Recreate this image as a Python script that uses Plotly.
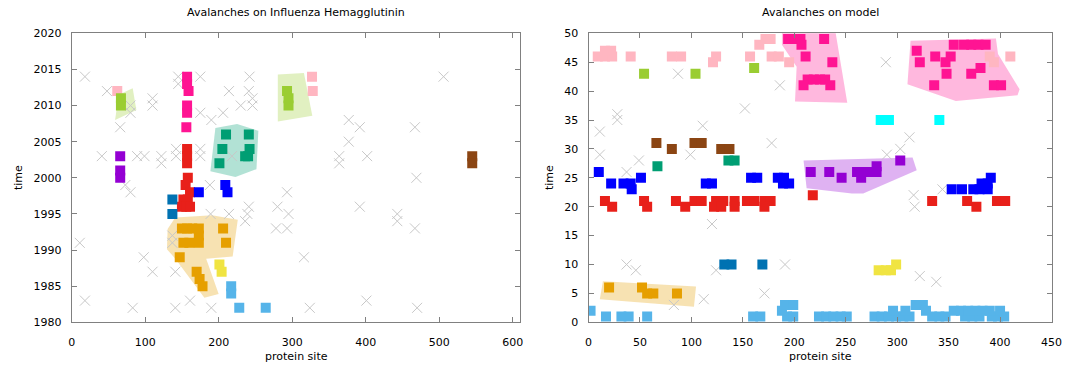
import plotly.graph_objects as go

# ---------------- LEFT PANEL DATA (protein site, year) ----------------
left_gray_x = [18, 48, 66, 80, 80, 110, 110, 145, 145, 175, 214, 242, 241, 246, 246, 230, 206, 190, 175,
               41, 89, 99, 122, 122, 142, 142, 175, 175, 218, 188, 293, 73, 80,
               506, 377, 392, 467, 377, 364, 364, 402, 469, 392, 443, 443, 467, 316, 324, 401, 470,
               214, 236, 239, 241, 189, 280, 295, 278, 293,
               11, 98, 110, 141, 18, 83, 141, 161, 190, 137, 137]
left_gray_y = [2014, 2012, 2007, 2010, 2009, 2011, 2010, 2014, 2013, 2014, 2012, 2014, 2012, 2011, 2010, 2010, 2009, 2008, 2009,
               2003, 2003, 2003, 2003, 2002, 2004, 2003, 2004, 2003, 2003, 1999, 1998, 1999, 1998,
               2014, 2008, 2007, 2007, 2005, 2003, 2002, 2003, 2000, 1996, 1995, 1994, 1993, 1989, 1982, 1983, 1982,
               1995, 1994, 1995, 1996, 1995, 1996, 1995, 1993, 1993,
               1991, 1989, 1987, 1987, 1983, 1982, 1982, 1983, 1982, 1992, 1991]

left_lightpink_x = [62, 327, 328]
left_lightpink_y = [2012, 2014, 2012]
left_yellowgreen_x = [67, 67, 293, 295, 295]
left_yellowgreen_y = [2011, 2010, 2012, 2011, 2010]
left_teal_x = [210, 241, 205, 242, 240, 236, 201]
left_teal_y = [2006, 2006, 2004, 2004, 2003, 2003, 2002]
left_deeppink_x = [157, 157, 159, 157, 157, 156]
left_deeppink_y = [2014, 2013, 2012, 2010, 2009, 2007]
left_red_x = [157, 157, 157, 158, 155, 161, 152, 158, 150, 156, 161]
left_red_y = [2004, 2003, 2002, 2000, 1999, 1998, 1997, 1997, 1996, 1996, 1996]
left_blue_x = [173, 209, 212]
left_blue_y = [1998, 1999, 1998]
left_steel_x = [137, 137]
left_steel_y = [1997, 1995]
left_orange_x = [150, 157, 164, 173, 173, 152, 160, 173, 206, 210, 147, 170, 174, 178]
left_orange_y = [1993, 1993, 1993, 1993, 1992, 1991, 1991, 1991, 1993, 1991, 1989, 1987, 1986, 1985]
left_yellow_x = [201, 204]
left_yellow_y = [1988, 1987]
left_skyblue_x = [217, 217, 228, 264]
left_skyblue_y = [1985, 1984, 1982, 1982]
left_purple_x = [66, 66, 66]
left_purple_y = [2003, 2001, 2000]
left_brown_x = [545, 545]
left_brown_y = [2003, 2002]

# hull outlines (left)
hull_l_green1_x = [59, 64, 83, 88]
hull_l_green1_y = [2008, 2011.5, 2012.4, 2009.4]
hull_l_green2_x = [280.5, 316, 327.4, 280.5]
hull_l_green2_y = [2014.3, 2014.5, 2008.6, 2007.8]
hull_l_teal_x = [195.5, 225, 254, 251.4, 222.8, 188.7]
hull_l_teal_y = [2006.9, 2007.45, 2006.5, 2001.2, 2000.1, 2000.9]
hull_l_orange_x = [130.5, 141, 191, 226, 219, 183, 200, 180.5, 141, 129.6]
hull_l_orange_y = [1992.9, 1994.5, 1994.8, 1994.2, 1989.1, 1988.8, 1983.9, 1983.4, 1988.8, 1990.1]

# ---------------- RIGHT PANEL DATA (protein site, time) ----------------
right_gray_x = [11, 11, 28, 28, 49, 37, 87, 111, 99, 152, 178, 186, 120, 37, 46, 124, 191, 171, 112, 83,
                289, 312, 303, 290, 344, 316, 317, 322, 338]
right_gray_y = [33, 29, 36, 35, 28, 26, 43, 34, 29, 37, 31, 41, 17, 10, 9, 9, 10, 5, 4, 3,
                45, 32, 30, 29, 23, 22, 20, 8, 7]

right_lightpink_x = [9, 16, 23, 16, 22, 41, 81, 90, 124, 121, 157, 178, 185, 195, 166, 172, 177, 390, 394, 410]
right_lightpink_y = [46, 46, 46, 47, 47, 46, 46, 46, 46, 45, 46, 46, 46, 45, 48, 49, 49, 46, 45, 46]
right_yellowgreen_x = [54, 104, 161]
right_yellowgreen_y = [43, 43, 44]
right_deeppink_x = [194, 200, 206, 207, 229, 211, 237, 213, 219, 225, 230, 209, 235,
                    319, 322, 337, 336, 347, 348, 352, 355, 365, 372, 379, 386, 372, 381, 394, 401]
right_deeppink_y = [49, 49, 49, 48, 49, 46, 45, 42, 42, 42, 42, 41, 41,
                    47, 45, 46, 41, 45, 43, 46, 48, 48, 48, 48, 48, 43, 44, 41, 41]
right_cyan_x = [284, 292, 341]
right_cyan_y = [35, 35, 35]
right_purple_x = [216, 234, 246, 261, 266, 265, 275, 280, 280, 303]
right_purple_y = [26, 26, 25, 26, 26, 25, 26, 26, 27, 28]
right_brown_x = [66, 81, 103, 110, 129, 137]
right_brown_y = [31, 30, 31, 31, 30, 30]
right_teal_x = [67, 136, 142]
right_teal_y = [27, 28, 28]
right_blue_x = [10, 22, 34, 41, 42, 51, 114, 120, 158, 164, 184, 190, 189, 195,
                353, 363, 374, 380, 382, 388, 388, 391]
right_blue_y = [26, 24, 24, 24, 23, 25, 24, 24, 25, 25, 25, 25, 24, 24,
                23, 23, 23, 23, 24, 24, 23, 25]
right_red_x = [16, 23, 54, 57, 85, 94, 103, 110, 124, 131, 122, 129, 142, 142, 154, 161, 171, 177, 171, 218,
               334, 368, 377, 397, 405]
right_red_y = [21, 20, 21, 20, 21, 20, 21, 21, 21, 21, 20, 20, 21, 20, 21, 21, 21, 21, 20, 22,
               21, 21, 20, 21, 21]
right_steel_x = [132, 139, 169]
right_steel_y = [10, 10, 10]
right_yellow_x = [282, 289, 294, 299]
right_yellow_y = [9, 9, 9, 10]
right_orange_x = [20, 52, 57, 63, 86]
right_orange_y = [6, 6, 5, 5, 5]
right_skyblue_x = [2, 17, 32, 39, 57, 160, 167, 193, 199, 188, 191, 199,
                   224, 231, 238, 245, 251, 278, 285, 292, 299, 306, 312, 296, 308, 318, 325, 328,
                   334, 341, 347, 366, 373, 380, 392, 398, 404, 355, 362, 369, 376, 383, 390, 400]
right_skyblue_y = [2, 1, 1, 1, 1, 1, 1, 1, 1, 2, 3, 3,
                   1, 1, 1, 1, 1, 1, 1, 1, 1, 1, 1, 2, 2, 3, 3, 2,
                   1, 1, 1, 1, 1, 1, 1, 1, 1, 2, 2, 2, 2, 2, 2, 2]

# hull outlines (right)
hull_r_pinkA_x = [188, 240, 251.5, 200.7, 202.3, 188]
hull_r_pinkA_y = [50.3, 50.3, 38, 38.2, 44.2, 48]
hull_r_pinkB_x = [313, 396, 398, 419, 417, 357, 310]
hull_r_pinkB_y = [48.7, 49.1, 46.4, 40.3, 39.3, 38.3, 41.2]
hull_r_purple_x = [209, 315, 319, 267, 256, 212]
hull_r_purple_y = [28, 28.5, 26.3, 22.3, 22.3, 23.2]
hull_r_orange_x = [14, 104.5, 102.5, 11]
hull_r_orange_y = [7.1, 6.2, 2.7, 4]

# ---------------- STYLES ----------------
C = {
    "lightpink": "#ffb6c1", "yellowgreen": "#9acd32", "teal": "#009e73", "deeppink": "#ff1493",
    "red": "#e8201a", "blue": "#0000ff", "steel": "#0072b2", "orange": "#e69f00",
    "yellow": "#f0e442", "skyblue": "#56b4e9", "purple": "#9400d3", "brown": "#8b4513", "cyan": "#00ffff",
}
HULL = {
    "yellowgreen": "rgba(154,205,50,0.3)", "teal": "rgba(0,158,115,0.3)",
    "orange": "rgba(230,159,0,0.3)", "deeppink": "rgba(255,20,147,0.3)", "purple": "rgba(148,0,211,0.3)",
}

fig = go.Figure()

def hull(x, y, key, ax):
    fig.add_trace(go.Scatter(x=x + [x[0]], y=y + [y[0]], mode="lines", fill="toself",
                             fillcolor=HULL[key], line=dict(width=0), hoverinfo="skip",
                             xaxis=ax[0], yaxis=ax[1]))

def pts(x, y, key, ax):
    fig.add_trace(go.Scatter(x=x, y=y, mode="markers",
                             marker=dict(symbol="square", size=10, color=C[key], line=dict(width=0)),
                             xaxis=ax[0], yaxis=ax[1]))

def crosses(x, y, ax):
    fig.add_trace(go.Scatter(x=x, y=y, mode="markers",
                             marker=dict(symbol="x-thin-open", size=10, color="#c8c8c8",
                                         line=dict(width=1, color="#c8c8c8")),
                             xaxis=ax[0], yaxis=ax[1]))

L = ("x", "y")
R = ("x2", "y2")

hull(hull_l_green1_x, hull_l_green1_y, "yellowgreen", L)
hull(hull_l_green2_x, hull_l_green2_y, "yellowgreen", L)
hull(hull_l_teal_x, hull_l_teal_y, "teal", L)
hull(hull_l_orange_x, hull_l_orange_y, "orange", L)
crosses(left_gray_x, left_gray_y, L)
pts(left_lightpink_x, left_lightpink_y, "lightpink", L)
pts(left_yellowgreen_x, left_yellowgreen_y, "yellowgreen", L)
pts(left_teal_x, left_teal_y, "teal", L)
pts(left_deeppink_x, left_deeppink_y, "deeppink", L)
pts(left_red_x, left_red_y, "red", L)
pts(left_blue_x, left_blue_y, "blue", L)
pts(left_steel_x, left_steel_y, "steel", L)
pts(left_orange_x, left_orange_y, "orange", L)
pts(left_yellow_x, left_yellow_y, "yellow", L)
pts(left_skyblue_x, left_skyblue_y, "skyblue", L)
pts(left_purple_x, left_purple_y, "purple", L)
pts(left_brown_x, left_brown_y, "brown", L)

hull(hull_r_pinkA_x, hull_r_pinkA_y, "deeppink", R)
hull(hull_r_pinkB_x, hull_r_pinkB_y, "deeppink", R)
hull(hull_r_purple_x, hull_r_purple_y, "purple", R)
hull(hull_r_orange_x, hull_r_orange_y, "orange", R)
crosses(right_gray_x, right_gray_y, R)
pts(right_lightpink_x, right_lightpink_y, "lightpink", R)
pts(right_yellowgreen_x, right_yellowgreen_y, "yellowgreen", R)
pts(right_deeppink_x, right_deeppink_y, "deeppink", R)
pts(right_cyan_x, right_cyan_y, "cyan", R)
pts(right_purple_x, right_purple_y, "purple", R)
pts(right_brown_x, right_brown_y, "brown", R)
pts(right_teal_x, right_teal_y, "teal", R)
pts(right_blue_x, right_blue_y, "blue", R)
pts(right_red_x, right_red_y, "red", R)
pts(right_steel_x, right_steel_y, "steel", R)
pts(right_yellow_x, right_yellow_y, "yellow", R)
pts(right_orange_x, right_orange_y, "orange", R)
pts(right_skyblue_x, right_skyblue_y, "skyblue", R)

FONT = dict(family="DejaVu Sans", size=11, color="#000000")
axis_common = dict(showgrid=False, zeroline=False, showline=True, linecolor="#808080", linewidth=1,
                   mirror="allticks", ticks="inside", ticklen=5, tickcolor="#808080",
                   tickfont=FONT, automargin=False)

W, H = 1075, 366
ydom = [1 - 322.3 / H, 1 - 33.3 / H]
fig.update_layout(
    width=W, height=H, margin=dict(l=0, r=0, t=0, b=0, pad=0, autoexpand=False),
    paper_bgcolor="white", plot_bgcolor="white", showlegend=False, font=FONT,
    xaxis=dict(domain=[71.7 / W, 520 / W], range=[0, 610], tickvals=[0, 100, 200, 300, 400, 500, 600],
               ticklabelstandoff=9, **axis_common),
    yaxis=dict(domain=ydom, range=[1980, 2020], dtick=5, ticklabelstandoff=7, **axis_common),
    xaxis2=dict(domain=[588.5 / W, 1051.5 / W], range=[0, 450], dtick=50, anchor="y2",
                ticklabelstandoff=9, **axis_common),
    yaxis2=dict(domain=ydom, range=[0, 50], dtick=5, anchor="x2", ticklabelstandoff=7, **axis_common),
    annotations=[
        dict(text="Avalanches on Influenza Hemagglutinin", x=296 / W, y=1 - 12 / H, xref="paper", yref="paper",
             showarrow=False, font=FONT, xanchor="center", yanchor="middle"),
        dict(text="Avalanches on model", x=820 / W, y=1 - 12 / H, xref="paper", yref="paper",
             showarrow=False, font=FONT, xanchor="center", yanchor="middle"),
        dict(text="protein site", x=296 / W, y=1 - 356 / H, xref="paper", yref="paper",
             showarrow=False, font=FONT, xanchor="center", yanchor="middle"),
        dict(text="protein site", x=820 / W, y=1 - 356 / H, xref="paper", yref="paper",
             showarrow=False, font=FONT, xanchor="center", yanchor="middle"),
        dict(text="time", x=18 / W, y=1 - 178 / H, xref="paper", yref="paper", textangle=-90,
             showarrow=False, font=FONT, xanchor="center", yanchor="middle"),
        dict(text="time", x=549 / W, y=1 - 178 / H, xref="paper", yref="paper", textangle=-90,
             showarrow=False, font=FONT, xanchor="center", yanchor="middle"),
    ],
)

fig.write_html("out.html", config={"displayModeBar": False},
               post_script="document.body.style.margin='0';document.body.style.padding='0';")
